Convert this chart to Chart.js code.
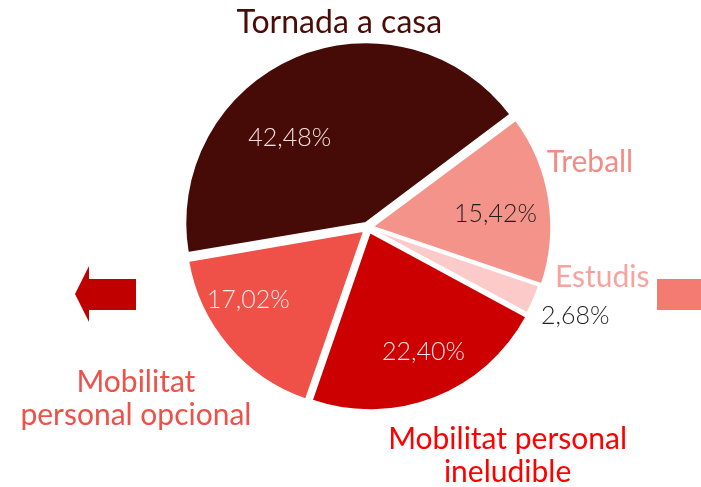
<!DOCTYPE html>
<html>
<head>
<meta charset="utf-8">
<script src="https://cdn.jsdelivr.net/npm/chart.js@4/dist/chart.umd.min.js"></script>
<style>
  html, body { margin: 0; padding: 0; background: #fff; }
  #wrap { position: relative; width: 701px; height: 487px; }
</style>
</head>
<body>
<div id="wrap"><canvas id="motiusChart"></canvas></div>
<script>
// motius de desplaçament (%)
const categories = ['Tornada a casa', 'Treball', 'Estudis', 'Mobilitat personal ineludible', 'Mobilitat personal opcional'];
const values = [42.48, 15.42, 2.68, 22.40, 17.02];
const sliceColors = ['#470b07', '#f4938a', '#fdcaca', '#cc0000', '#ef5048'];
// arc offsets (Chart.js v4 moves an arc by offset/4 px)
const sliceOffsets = [20, 18, 6, 20, 20];

// label placement: angle in degrees (canvas, clockwise from 3 o'clock) and distance as a share of the radius
const valueLabelPos = [[229, 0.67], [-6, 0.72], [23, 1.265], [66, 0.765], [149, 0.785]];
const valueLabelColors = ['#f3dede', '#231f20', '#231f20', '#fbe3e3', '#fde9e9'];
const nameLines = [['Tornada a casa'], ['Treball'], ['Estudis'], ['Mobilitat personal', 'ineludible'], ['Mobilitat', 'personal opcional']];
const nameLabelPos = [[262, 1.16], [-16.4, 1.30], [11.9, 1.345], [58.6, 1.505], [143.6, 1.62]];
const nameColors = ['#4a0c08', '#f28c84', '#f7a3a0', '#ff0000', '#ef5048'];

function fmt(v) {
  return v.toFixed(2).replace('.', ',') + '%';
}

const labelsPlugin = {
  id: 'sliceLabels',
  afterDraw(chart) {
    const ctx = chart.ctx;
    const area = chart.chartArea;
    const cx = (area.left + area.right) / 2;
    const cy = (area.top + area.bottom) / 2;
    const r = chart.getDatasetMeta(0).data[0].outerRadius;
    ctx.save();
    ctx.textAlign = 'center';
    ctx.textBaseline = 'middle';

    values.forEach((v, i) => {
      const a = valueLabelPos[i][0] * Math.PI / 180;
      const d = valueLabelPos[i][1] * r;
      ctx.font = '300 25px Lato';
      ctx.fillStyle = valueLabelColors[i];
      ctx.fillText(fmt(v), cx + Math.cos(a) * d, cy + Math.sin(a) * d);
    });

    nameLines.forEach((lines, i) => {
      const a = nameLabelPos[i][0] * Math.PI / 180;
      const d = nameLabelPos[i][1] * r;
      const x = cx + Math.cos(a) * d;
      const y = cy + Math.sin(a) * d;
      const lh = 33;
      ctx.font = (i === 0 ? '32px' : '30px') + ' Lato';
      ctx.fillStyle = nameColors[i];
      lines.forEach((t, j) => {
        ctx.fillText(t, x, y + (j - (lines.length - 1) / 2) * lh);
      });
    });

    // arrow on the left and block on the right
    ctx.fillStyle = '#c00000';
    ctx.beginPath();
    ctx.moveTo(75, 294);
    ctx.lineTo(89, 266);
    ctx.lineTo(89, 279);
    ctx.lineTo(136, 279);
    ctx.lineTo(136, 310);
    ctx.lineTo(89, 310);
    ctx.lineTo(89, 322);
    ctx.closePath();
    ctx.fill();
    ctx.fillStyle = '#f47b72';
    ctx.fillRect(657, 279, 44, 31);
    ctx.restore();
  }
};

new Chart(document.getElementById('motiusChart'), {
  type: 'pie',
  data: {
    labels: categories,
    datasets: [{
      data: values,
      backgroundColor: sliceColors,
      borderColor: '#ffffff',
      borderWidth: 2,
      offset: sliceOffsets
    }]
  },
  options: {
    responsive: true,
    maintainAspectRatio: false,
    animation: false,
    rotation: 260.3,
    radius: 178,
    layout: { padding: { left: 35, right: 0, top: 0, bottom: 32 } },
    plugins: {
      legend: { display: false },
      tooltip: { enabled: false }
    }
  },
  plugins: [labelsPlugin]
});
</script>
</body>
</html>
